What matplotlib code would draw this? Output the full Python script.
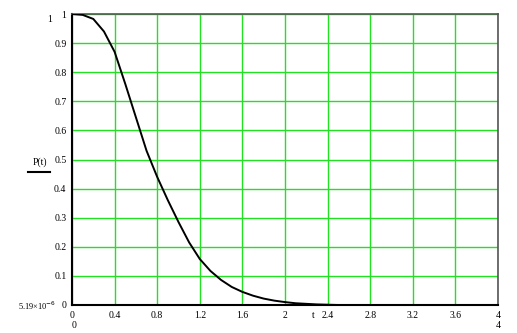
import matplotlib
matplotlib.use("Agg")
import matplotlib.pyplot as plt
import numpy as np

# values, step 0.1 in t
t_values = np.round(np.arange(0, 4.01, 0.1), 2)
p_head = [1.0, 0.997, 0.983, 0.94, 0.87, 0.76, 0.645, 0.53, 0.44, 0.36,
          0.285, 0.215, 0.158, 0.117, 0.086, 0.062, 0.045, 0.032, 0.022, 0.015,
          0.01, 0.006, 0.004, 0.002, 0.001]
p_values = p_head + [0.0] * (len(t_values) - len(p_head))

x_ticks = [0, 0.4, 0.8, 1.2, 1.6, 2, 2.4, 2.8, 3.2, 3.6, 4]
x_tick_labels = ["0", "0.4", "0.8", "1.2", "1.6", "2", "2.4", "2.8", "3.2", "3.6", "4"]
y_ticks = [0, 0.1, 0.2, 0.3, 0.4, 0.5, 0.6, 0.7, 0.8, 0.9, 1]
y_tick_labels = ["0", "0.1", "0.2", "0.3", "0.4", "0.5", "0.6", "0.7", "0.8", "0.9", "1"]

plt.rcParams["font.family"] = ["Liberation Serif", "DejaVu Serif"]

fig = plt.figure(figsize=(5.17, 3.33), dpi=100)
ax = fig.add_axes([72 / 517, 1 - 305 / 333, 426 / 517, 291 / 333])

ax.plot(t_values, p_values, color="black", linewidth=1.4, zorder=3)

ax.set_xlim(0, 4)
ax.set_ylim(0, 1)
ax.set_xticks(x_ticks)
ax.set_xticklabels(x_tick_labels)
ax.set_yticks(y_ticks)
ax.set_yticklabels(y_tick_labels)
ax.tick_params(length=0, labelsize=7, pad=4)
ax.grid(True, color="#22e022", linewidth=1.0)
ax.set_axisbelow(True)

for side in ["top", "right"]:
    ax.spines[side].set_color("#555555")
    ax.spines[side].set_linewidth(1.2)
for side in ["left", "bottom"]:
    ax.spines[side].set_color("black")
    ax.spines[side].set_linewidth(1.5)

# Mathcad style limit labels and axis names
fig.text(50 / 517, 1 - 20 / 333, "1", fontsize=7, ha="center", va="center")
fig.text(56 / 517, 1 - 306 / 333, "5.19×10$^{-6}$", fontsize=6, ha="right", va="center")
fig.text(74 / 517, 1 - 325 / 333, "0", fontsize=7, ha="center", va="center")
fig.text(498 / 517, 1 - 325 / 333, "4", fontsize=7, ha="center", va="center")
fig.text(313 / 517, 1 - 316 / 333, "t", fontsize=7, ha="center", va="center")
fig.text(40 / 517, 1 - 162 / 333, "P(t)", fontsize=7, ha="center", va="center")
fig.add_artist(plt.Line2D([28 / 517, 50 / 517], [1 - 172 / 333, 1 - 172 / 333],
                          color="black", linewidth=1.5))

fig.savefig("out.png", dpi=100)
